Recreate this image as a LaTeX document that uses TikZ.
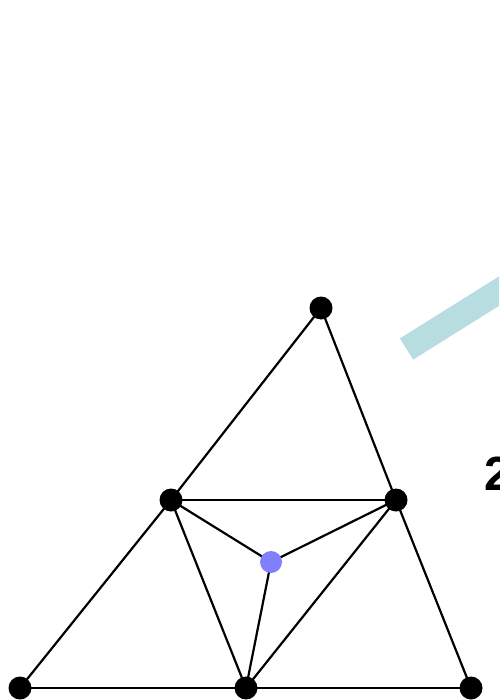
\documentclass[tikz,border=0pt]{standalone}
\usepackage{fontspec}
\setmainfont{Liberation Sans}
\begin{document}
\begin{tikzpicture}[x=1pt,y=-1pt,
  dot/.style={circle,fill=black,inner sep=0pt,minimum size=23pt},
  bluedot/.style={circle,fill={rgb,255:red,128;green,128;blue,255},inner sep=0pt,minimum size=22pt},
  edge/.style={draw=black,line width=2.2pt}]
\useasboundingbox (0,0) rectangle (499,700);
\clip (0,0) rectangle (499,700);
\definecolor{teal1}{RGB}{184,221,224}
\coordinate (b0) at (406.5,349);
\coordinate (b1) at (560,253);
\draw[teal1,line width=25pt] (b0) -- (b1);
\node (t) at (321,308) {};
\node (lm) at (171,500) {};
\node (rm) at (396,500) {};
\node (bl) at (20,688) {};
\node (bm) at (246,688) {};
\node (br) at (471,688) {};
\node (c) at (271,562) {};
\draw[edge] (t.center) -- (lm.center);
\draw[edge] (t.center) -- (rm.center);
\draw[edge] (lm.center) -- (rm.center);
\draw[edge] (lm.center) -- (bl.center);
\draw[edge] (lm.center) -- (bm.center);
\draw[edge] (rm.center) -- (bm.center);
\draw[edge] (rm.center) -- (br.center);
\draw[edge] (bl.center) -- (br.center);
\draw[edge] (c.center) -- (lm.center);
\draw[edge] (c.center) -- (rm.center);
\draw[edge] (c.center) -- (bm.center);
\foreach \n in {t,lm,rm,bl,bm,br} \node[dot] at (\n) {};
\node[bluedot] at (c) {};
\node[anchor=base west,inner sep=0pt,font=\fontsize{48}{58}\selectfont\bfseries] (lbl) at (484,490) {2};
\end{tikzpicture}
\end{document}
